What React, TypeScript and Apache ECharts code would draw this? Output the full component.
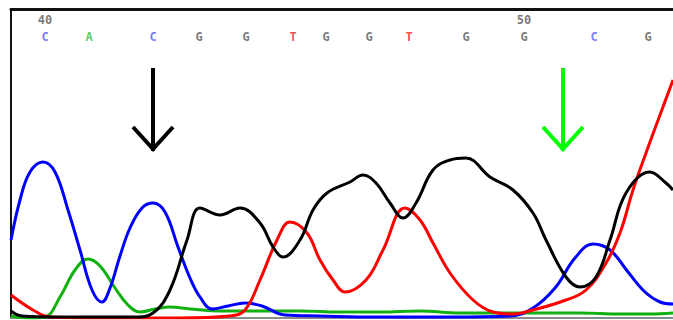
import React, { useEffect, useRef } from "react";
import * as echarts from "echarts";

// Trace data: [scan position, signal intensity]
const traceC: number[][] = [[0,78],[9,118],[19,146],[32,156],[44,146],[57,108],[69,68],[81,28],[91,16],[99,30],[109,62],[119,90],[131,110],[142,115],[154,106],[167,71],[179,40],[189,21],[201,9],[217,12],[234,15],[251,12],[274,3],[309,2],[369,1],[439,1],[499,2],[522,10],[544,30],[564,60],[582,74],[599,68],[617,46],[634,26],[649,16],[662,14]];
const traceA: number[][] = [[0,2],[19,0],[34,1],[49,21],[64,48],[77,59],[89,52],[104,30],[117,13],[129,6],[144,9],[159,11],[179,9],[209,7],[249,7],[289,7],[329,6],[369,6],[409,7],[449,5],[489,5],[529,5],[569,5],[609,4],[639,4],[662,5]];
const traceT: number[][] = [[0,23],[22,8],[39,1],[89,0],[169,0],[219,2],[234,8],[249,38],[266,78],[279,96],[296,85],[309,58],[322,38],[334,26],[355,38],[372,68],[394,110],[409,98],[422,75],[439,45],[462,18],[482,6],[502,4],[522,8],[555,18],[575,28],[595,55],[609,85],[622,128],[635,165],[649,203],[662,238]];
const traceG: number[][] = [[0,7],[11,2],[49,1],[124,1],[142,5],[159,28],[176,78],[189,110],[209,103],[229,110],[249,95],[262,71],[272,61],[289,78],[302,108],[316,125],[339,136],[352,143],[365,135],[379,115],[392,100],[405,115],[422,148],[439,158],[455,160],[479,141],[502,128],[522,105],[535,78],[555,41],[569,31],[585,41],[599,78],[615,125],[639,146],[655,135],[662,128]];

const baseCalls: string[] = ["C","A","C","G","G","T","G","G","T","G","G","C","G"];
const basePositions: number[] = [34,78,142,188,235,282,315,358,398,455,513,583,637];
const firstBaseNumber = 40;
const numberedEvery = 10;

const arrowPositions: number[] = [142, 552];
const arrowColors: string[] = ["#000000", "#00ff00"];

const baseColor: Record<string, string> = { A: "#30c030", C: "#5555ff", G: "#555555", T: "#ff2020" };

const X_MAX = 662;
const Y_MAX = 309;
const LETTER_Y = 281;
const NUMBER_Y = 298;
const ARROW_TOP = 250;
const ARROW_TIP = 166;

export default function App() {
  const ref = useRef<HTMLDivElement>(null);
  useEffect(() => {
    if (!ref.current) return;
    const chart = echarts.init(ref.current, null, { renderer: "svg" });
    const traceSeries = (name: string, data: number[][], color: string) => ({
      name,
      type: "line",
      data,
      smooth: 0.4,
      showSymbol: false,
      symbol: "none",
      lineStyle: { color, width: 3 },
      z: 2,
    });
    const letterData = baseCalls.map((b, i) => ({
      value: [basePositions[i], LETTER_Y],
      label: { formatter: b, color: baseColor[b] },
    }));
    const numberData = basePositions
      .map((p, i) => ({ p, i }))
      .filter(({ i }) => i % numberedEvery === 0)
      .map(({ p, i }) => ({ value: [p, NUMBER_Y], label: { formatter: String(firstBaseNumber + i) } }));
    chart.setOption({
      animation: false,
      grid: { left: 11, top: 9, right: 0, bottom: 2 },
      xAxis: [
        {
          type: "value", min: 0, max: X_MAX, position: "bottom",
          axisLine: { show: true, lineStyle: { color: "#8a8a8a", width: 2 } },
          axisTick: { show: false }, axisLabel: { show: false }, splitLine: { show: false },
        },
        {
          type: "value", min: 0, max: X_MAX, position: "top",
          axisLine: { show: true, lineStyle: { color: "#111", width: 3 } },
          axisTick: { show: false }, axisLabel: { show: false }, splitLine: { show: false },
        },
      ],
      yAxis: {
        type: "value", min: 0, max: Y_MAX,
        axisLine: { show: true, lineStyle: { color: "#111", width: 2 } },
        axisTick: { show: false }, axisLabel: { show: false }, splitLine: { show: false },
      },
      series: [
        traceSeries("A", traceA, "#10b010"),
        traceSeries("C", traceC, "#0000ff"),
        traceSeries("T", traceT, "#ff0000"),
        traceSeries("G", traceG, "#000000"),
        {
          type: "scatter", data: letterData, symbolSize: 0, silent: true,
          label: { show: true, position: "inside", fontFamily: "DejaVu Sans Mono", fontSize: 12, fontWeight: "bold" },
        },
        {
          type: "scatter", data: numberData, symbolSize: 0, silent: true,
          label: { show: true, position: "inside", color: "#555", fontFamily: "DejaVu Sans Mono", fontSize: 12, fontWeight: "bold" },
        },
        {
          type: "custom",
          data: arrowPositions.map((p, i) => [p, i]),
          clip: false,
          renderItem: (params: any, api: any) => {
            const x = api.value(0);
            const idx = api.value(1);
            const top = api.coord([x, ARROW_TOP]);
            const tip = api.coord([x, ARROW_TIP]);
            const color = arrowColors[idx];
            return {
              type: "group",
              children: [
                { type: "line", shape: { x1: top[0], y1: top[1], x2: tip[0], y2: tip[1] - 1 }, style: { stroke: color, lineWidth: 4 } },
                {
                  type: "polyline",
                  shape: { points: [[tip[0] - 20, tip[1] - 25], [tip[0], tip[1] - 3], [tip[0] + 20, tip[1] - 25]] },
                  style: { stroke: color, lineWidth: 4, fill: "none" },
                },
              ],
            };
          },
        },
      ],
    });
    return () => chart.dispose();
  }, []);
  return <div ref={ref} style={{ position: "fixed", left: 0, top: 0, width: 673, height: 320, background: "#fff" }} />;
}
